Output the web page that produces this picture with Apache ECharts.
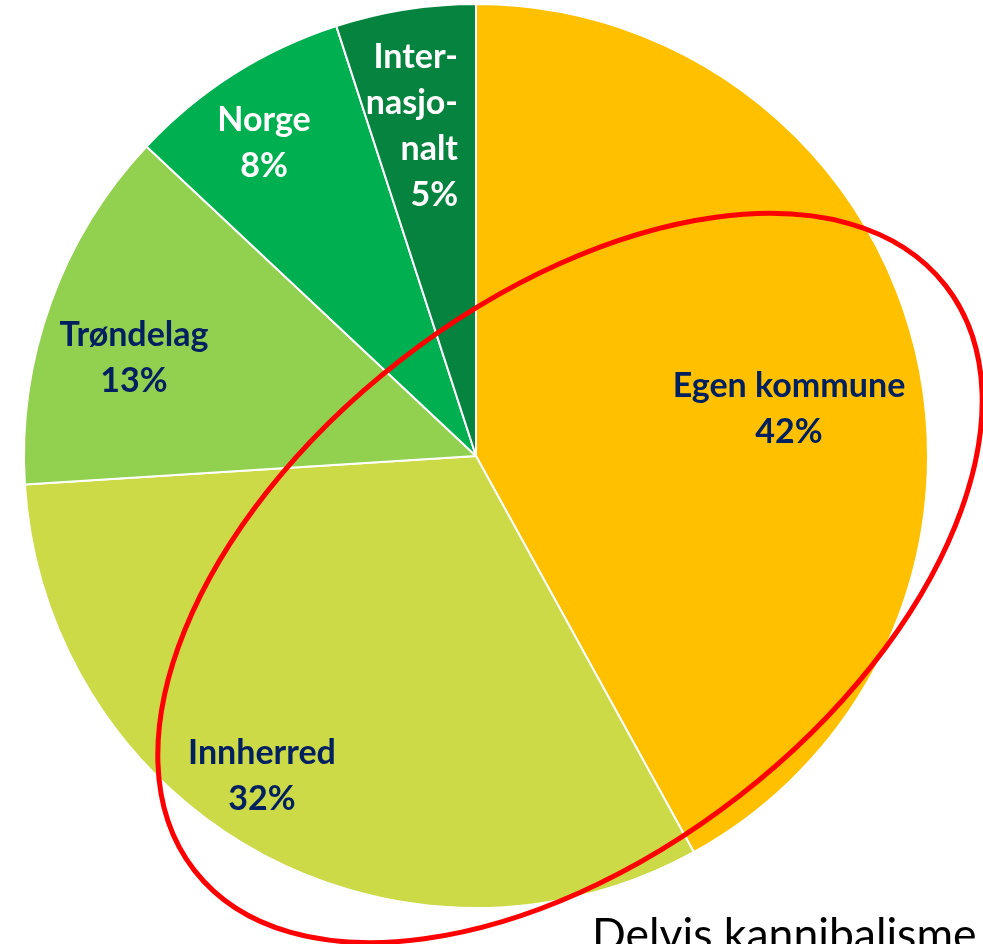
<!DOCTYPE html>
<html>
<head>
<meta charset="utf-8">
<script src="https://cdn.jsdelivr.net/npm/echarts@6/dist/echarts.min.js"></script>
<style>
html,body{margin:0;padding:0;background:#fff;}
#chart{width:983px;height:944px;}
</style>
</head>
<body>
<div id="chart"></div>
<script>
// Data
const categories = ['Egen kommune', 'Innherred', 'Trøndelag', 'Norge', 'Inter-\nnasjo-\nnalt'];
const values = [42, 32, 13, 8, 5];
const annotation = 'Delvis kannibalisme';

// Styles
const colors = ['#FFC000', '#CCDA47', '#92D050', '#00B050', '#06843F'];
const labelColors = ['#002060', '#002060', '#002060', '#ffffff', '#ffffff'];
const labelAlign = ['center', 'center', 'center', 'center', 'right'];
const labelPos = [[789, 409], [262, 776], [134, 358], [264, 143], [458, 126]];

const chart = echarts.init(document.getElementById('chart'));
const option = {
  animation: false,
  series: [{
    type: 'pie',
    center: [476, 456],
    radius: 452,
    startAngle: 90,
    clockwise: true,
    silent: true,
    itemStyle: { borderColor: '#ffffff', borderWidth: 2 },
    label: {
      show: true,
      position: 'inside',
      fontFamily: 'Lato',
      fontWeight: 'bold',
      fontSize: 34,
      lineHeight: 46,
      formatter: p => p.name + '\n' + p.value + '%'
    },
    labelLine: { show: false },
    labelLayout: function (params) {
      const i = params.dataIndex;
      return { x: labelPos[i][0], y: labelPos[i][1], align: labelAlign[i], verticalAlign: 'middle' };
    },
    data: categories.map((c, i) => ({
      name: c,
      value: values[i],
      itemStyle: { color: colors[i] },
      label: { color: labelColors[i], align: labelAlign[i] }
    }))
  }],
  graphic: [
    {
      type: 'ellipse',
      x: 570, y: 578,
      rotation: 37.9 * Math.PI / 180,
      shape: { cx: 0, cy: 0, rx: 476, ry: 276 },
      style: { fill: 'none', stroke: '#FF0000', lineWidth: 5 },
      z: 100
    },
    {
      type: 'text',
      x: 592, y: 913,
      style: { text: annotation, fontFamily: 'Lato', fontSize: 44.5, fill: '#000000', textVerticalAlign: 'top' },
      z: 100
    }
  ]
};
chart.setOption(option);
</script>
</body>
</html>
